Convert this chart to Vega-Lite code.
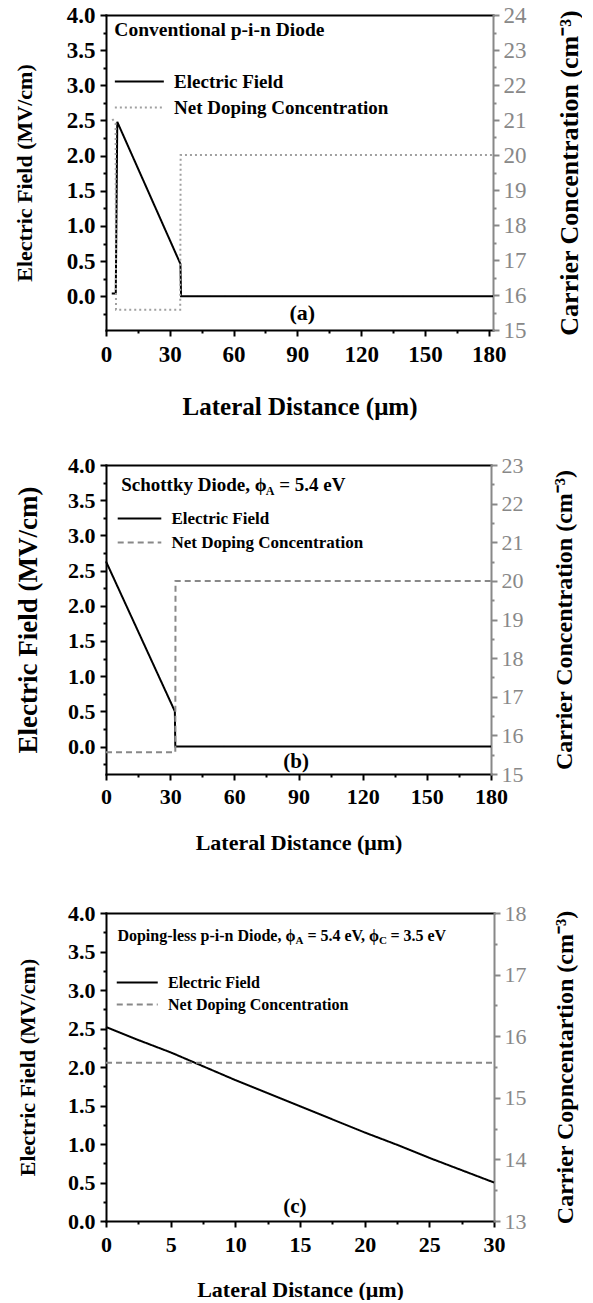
{
  "$schema": "https://vega.github.io/schema/vega-lite/v6.json",
  "padding": {"left": 13, "top": 4, "right": 0, "bottom": 0},
  "datasets": {
    "efA": [
      {"x": 2.7, "v": 0.04, "series": "Electric Field"},
      {"x": 4.6, "v": 0.04, "series": "Electric Field"},
      {"x": 5.3, "v": 2.48, "series": "Electric Field"},
      {"x": 35.0, "v": 0.46, "series": "Electric Field"},
      {"x": 35.3, "v": 0.0, "series": "Electric Field"},
      {"x": 182, "v": 0.0, "series": "Electric Field"}
    ],
    "ndA": [
      {"x": 3.0, "v": 21.03, "series": "Net Doping Concentration"},
      {"x": 4.5, "v": 20.9, "series": "Net Doping Concentration"},
      {"x": 4.7, "v": 15.58, "series": "Net Doping Concentration"},
      {"x": 34.9, "v": 15.58, "series": "Net Doping Concentration"},
      {"x": 35.1, "v": 20.0, "series": "Net Doping Concentration"},
      {"x": 182, "v": 20.0, "series": "Net Doping Concentration"}
    ],
    "efB": [
      {"x": 0, "v": 2.63, "series": "Electric Field"},
      {"x": 32.2, "v": 0.5, "series": "Electric Field"},
      {"x": 32.4, "v": 0.0, "series": "Electric Field"},
      {"x": 180, "v": 0.0, "series": "Electric Field"}
    ],
    "ndB": [
      {"x": 0, "v": 15.56, "series": "Net Doping Concentration"},
      {"x": 32.4, "v": 15.56, "series": "Net Doping Concentration"},
      {"x": 32.5, "v": 20.0, "series": "Net Doping Concentration"},
      {"x": 180, "v": 20.0, "series": "Net Doping Concentration"}
    ],
    "efC": [
      {"x": 0, "v": 2.52, "series": "Electric Field"},
      {"x": 2.5, "v": 2.35, "series": "Electric Field"},
      {"x": 5, "v": 2.19, "series": "Electric Field"},
      {"x": 7.5, "v": 2.01, "series": "Electric Field"},
      {"x": 10, "v": 1.83, "series": "Electric Field"},
      {"x": 12.5, "v": 1.66, "series": "Electric Field"},
      {"x": 15, "v": 1.49, "series": "Electric Field"},
      {"x": 17.5, "v": 1.32, "series": "Electric Field"},
      {"x": 20, "v": 1.15, "series": "Electric Field"},
      {"x": 22.5, "v": 0.99, "series": "Electric Field"},
      {"x": 25, "v": 0.82, "series": "Electric Field"},
      {"x": 27.5, "v": 0.66, "series": "Electric Field"},
      {"x": 30, "v": 0.5, "series": "Electric Field"}
    ],
    "ndC": [
      {"x": 0, "v": 15.57, "series": "Net Doping Concentration"},
      {"x": 30, "v": 15.57, "series": "Net Doping Concentration"}
    ]
  },
  "config": {
    "font": "Liberation Serif",
    "view": {"stroke": null},
    "axis": {
      "grid": false,
      "labelFont": "Liberation Serif",
      "titleFont": "Liberation Serif",
      "labelFontWeight": "bold",
      "titleFontWeight": "bold",
      "labelColor": "#000000",
      "titleColor": "#000000",
      "domainColor": "#000000",
      "tickColor": "#000000",
      "domainWidth": 2,
      "domainCap": "square",
      "tickWidth": 2,
      "tickSize": 6,
      "labelFlush": false,
      "labelOverlap": false
    },
    "legend": {"labelLimit": 500},
    "text": {"font": "Liberation Serif", "fontWeight": "bold", "color": "#000000"}
  },
  "resolve": {"scale": {"x": "independent", "y": "independent", "color": "independent", "strokeDash": "independent"}},
  "spacing": 49,
  "vconcat": [
    {
      "spacing": 35,
      "resolve": {"scale": {"x": "independent", "y": "independent", "color": "independent", "strokeDash": "independent"}},
      "vconcat": [
        {
          "width": 387,
          "height": 315,
          "resolve": {"scale": {"y": "independent"}, "axis": {"x": "independent", "y": "independent"}},
          "layer": [
            {
              "data": {"name": "efA"},
              "mark": {"type": "line", "strokeWidth": 2},
              "encoding": {
                "x": {"field": "x", "type": "quantitative", "scale": {"domain": [0, 182], "nice": false, "zero": false},
                  "axis": {"orient": "bottom", "values": [0, 30, 60, 90, 120, 150, 180], "labelFontSize": 23, "labelPadding": 7, "title": "Lateral Distance (μm)", "titleFontSize": 25, "titlePadding": 28}},
                "y": {"field": "v", "type": "quantitative", "scale": {"domain": [-0.48, 4], "nice": false, "zero": false},
                  "axis": {"orient": "left", "values": [0, 0.5, 1, 1.5, 2, 2.5, 3, 3.5, 4], "format": ".1f", "labelFontSize": 23, "labelPadding": 5, "title": "Electric Field (MV/cm)", "titleFontSize": 22, "titlePadding": 30}},
                "color": {"field": "series", "type": "nominal", "scale": {"domain": ["Electric Field", "Net Doping Concentration"], "range": ["#000000", "#a0a0a0"]},
                  "legend": {"orient": "none", "legendX": 7.6, "legendY": 53, "title": null, "symbolType": "M-1,0H3", "symbolSize": 600, "symbolStrokeWidth": 2, "labelFont": "Liberation Serif", "labelFontSize": 19, "labelFontWeight": "bold", "labelColor": "#000000", "labelOffset": 33.5, "labelLimit": 500, "rowPadding": 2, "padding": 0}},
                "strokeDash": {"field": "series", "type": "nominal", "scale": {"domain": ["Electric Field", "Net Doping Concentration"], "range": [[1, 0], [2, 3]]},
                  "legend": {"orient": "none", "legendX": 7.6, "legendY": 53, "title": null, "symbolType": "M-1,0H3", "symbolSize": 600, "symbolStrokeWidth": 2, "labelFont": "Liberation Serif", "labelFontSize": 19, "labelFontWeight": "bold", "labelColor": "#000000", "labelOffset": 33.5, "labelLimit": 500, "rowPadding": 2, "padding": 0}}
              }
            },
            {
              "data": {"name": "efA"},
              "mark": {"type": "line", "opacity": 0},
              "encoding": {
                "x": {"field": "x", "type": "quantitative", "axis": {"orient": "bottom", "values": [15, 45, 75, 105, 135, 165], "labels": false, "domain": false, "tickSize": 3, "title": null}},
                "y": {"field": "v", "type": "quantitative", "scale": {"domain": [-0.48, 4], "nice": false, "zero": false},
                  "axis": {"orient": "left", "values": [-0.25, 0.25, 0.75, 1.25, 1.75, 2.25, 2.75, 3.25, 3.75], "labels": false, "domain": false, "tickSize": 3, "title": null}}
              }
            },
            {
              "data": {"name": "ndA"},
              "mark": {"type": "line", "strokeWidth": 2},
              "encoding": {
                "x": {"field": "x", "type": "quantitative", "axis": {"orient": "top", "ticks": false, "labels": false, "title": null}},
                "y": {"field": "v", "type": "quantitative", "scale": {"domain": [15, 24], "nice": false, "zero": false},
                  "axis": {"orient": "right", "values": [15, 16, 17, 18, 19, 20, 21, 22, 23, 24], "format": "d", "labelFontSize": 23, "labelFontWeight": "normal", "labelColor": "#888888", "tickColor": "#888888", "domainColor": "#888888", "labelPadding": 4, "title": "Carrier Concentration (cm⁻³)", "titleFontSize": 26, "titleAngle": 270, "titleBaseline": "top", "titlePadding": 30}},
                "color": {"field": "series", "type": "nominal"},
                "strokeDash": {"field": "series", "type": "nominal"}
              }
            },
            {
              "data": {"name": "ndA"},
              "mark": {"type": "line", "opacity": 0},
              "encoding": {
                "x": {"field": "x", "type": "quantitative", "axis": null},
                "y": {"field": "v", "type": "quantitative", "scale": {"domain": [15, 24], "nice": false, "zero": false},
                  "axis": {"orient": "right", "values": [15.5, 16.5, 17.5, 18.5, 19.5, 20.5, 21.5, 22.5, 23.5], "labels": false, "domain": false, "tickSize": 3, "tickColor": "#888888", "title": null}}
              }
            },
            {
              "data": {"values": [{"t": "Conventional p-i-n Diode"}]},
              "mark": {"type": "text", "align": "left", "baseline": "middle", "fontSize": 19.5},
              "encoding": {
                "text": {"field": "t"},
                "x": {"datum": 3.9, "type": "quantitative", "axis": null},
                "y": {"datum": 3.79, "type": "quantitative", "scale": {"domain": [-0.48, 4], "nice": false, "zero": false}, "axis": null}
              }
            },
            {
              "data": {"values": [{"t": "(a)"}]},
              "mark": {"type": "text", "align": "center", "baseline": "middle", "fontSize": 22},
              "encoding": {
                "text": {"field": "t"},
                "x": {"datum": 92.3, "type": "quantitative", "axis": null},
                "y": {"datum": -0.24, "type": "quantitative", "scale": {"domain": [-0.48, 4], "nice": false, "zero": false}, "axis": null}
              }
            }
          ]
        },
        {
          "width": 385,
          "height": 309,
          "resolve": {"scale": {"y": "independent"}, "axis": {"x": "independent", "y": "independent"}},
          "layer": [
            {
              "data": {"name": "efB"},
              "mark": {"type": "line", "strokeWidth": 2},
              "encoding": {
                "x": {"field": "x", "type": "quantitative", "scale": {"domain": [0, 180], "nice": false, "zero": false},
                  "axis": {"orient": "bottom", "values": [0, 30, 60, 90, 120, 150, 180], "labelFontSize": 22, "labelPadding": 6, "title": "Lateral Distance (μm)", "titleFontSize": 22, "titlePadding": 25}},
                "y": {"field": "v", "type": "quantitative", "scale": {"domain": [-0.39, 4], "nice": false, "zero": false},
                  "axis": {"orient": "left", "values": [0, 0.5, 1, 1.5, 2, 2.5, 3, 3.5, 4], "format": ".1f", "labelFontSize": 22, "labelPadding": 5, "title": "Electric Field (MV/cm)", "titleFontSize": 27, "titlePadding": 25}},
                "color": {"field": "series", "type": "nominal", "scale": {"domain": ["Electric Field", "Net Doping Concentration"], "range": ["#000000", "#888888"]},
                  "legend": {"orient": "none", "legendX": 10.6, "legendY": 41.5, "title": null, "symbolType": "M-1,0H3", "symbolSize": 475, "symbolStrokeWidth": 2, "labelFont": "Liberation Serif", "labelFontSize": 17, "labelFontWeight": "bold", "labelColor": "#000000", "labelOffset": 30.8, "labelLimit": 500, "rowPadding": 4, "padding": 0}},
                "strokeDash": {"field": "series", "type": "nominal", "scale": {"domain": ["Electric Field", "Net Doping Concentration"], "range": [[1, 0], [6, 4]]},
                  "legend": {"orient": "none", "legendX": 10.6, "legendY": 41.5, "title": null, "symbolType": "M-1,0H3", "symbolSize": 475, "symbolStrokeWidth": 2, "labelFont": "Liberation Serif", "labelFontSize": 17, "labelFontWeight": "bold", "labelColor": "#000000", "labelOffset": 30.8, "labelLimit": 500, "rowPadding": 4, "padding": 0}}
              }
            },
            {
              "data": {"name": "efB"},
              "mark": {"type": "line", "opacity": 0},
              "encoding": {
                "x": {"field": "x", "type": "quantitative", "axis": {"orient": "bottom", "values": [15, 45, 75, 105, 135, 165], "labels": false, "domain": false, "tickSize": 3, "title": null}},
                "y": {"field": "v", "type": "quantitative", "scale": {"domain": [-0.39, 4], "nice": false, "zero": false},
                  "axis": {"orient": "left", "values": [-0.25, 0.25, 0.75, 1.25, 1.75, 2.25, 2.75, 3.25, 3.75], "labels": false, "domain": false, "tickSize": 3, "title": null}}
              }
            },
            {
              "data": {"name": "ndB"},
              "mark": {"type": "line", "strokeWidth": 2},
              "encoding": {
                "x": {"field": "x", "type": "quantitative", "axis": {"orient": "top", "ticks": false, "labels": false, "title": null}},
                "y": {"field": "v", "type": "quantitative", "scale": {"domain": [15, 23], "nice": false, "zero": false},
                  "axis": {"orient": "right", "values": [15, 16, 17, 18, 19, 20, 21, 22, 23], "format": "d", "labelFontSize": 22, "labelFontWeight": "normal", "labelColor": "#888888", "tickColor": "#888888", "domainColor": "#888888", "labelPadding": 4, "title": "Carrier Concentration (cm⁻³)", "titleFontSize": 24, "titleAngle": 270, "titleBaseline": "top", "titlePadding": 29}},
                "color": {"field": "series", "type": "nominal"},
                "strokeDash": {"field": "series", "type": "nominal"}
              }
            },
            {
              "data": {"name": "ndB"},
              "mark": {"type": "line", "opacity": 0},
              "encoding": {
                "x": {"field": "x", "type": "quantitative", "axis": null},
                "y": {"field": "v", "type": "quantitative", "scale": {"domain": [15, 23], "nice": false, "zero": false},
                  "axis": {"orient": "right", "values": [15.5, 16.5, 17.5, 18.5, 19.5, 20.5, 21.5, 22.5], "labels": false, "domain": false, "tickSize": 3, "tickColor": "#888888", "title": null}}
              }
            },
            {
              "data": {"values": [{"t": "Schottky Diode, ϕ"}]},
              "mark": {"type": "text", "align": "left", "baseline": "middle", "fontSize": 19},
              "encoding": {
                "text": {"field": "t"},
                "x": {"datum": 7.1, "type": "quantitative", "axis": null},
                "y": {"datum": 3.72, "type": "quantitative", "scale": {"domain": [-0.39, 4], "nice": false, "zero": false}, "axis": null}
              }
            },
            {
              "data": {"values": [{"t": "A"}]},
              "mark": {"type": "text", "align": "left", "baseline": "middle", "fontSize": 12, "dx": 144.5, "dy": 6},
              "encoding": {
                "text": {"field": "t"},
                "x": {"datum": 7.1, "type": "quantitative", "axis": null},
                "y": {"datum": 3.72, "type": "quantitative", "scale": {"domain": [-0.39, 4], "nice": false, "zero": false}, "axis": null}
              }
            },
            {
              "data": {"values": [{"t": "= 5.4 eV"}]},
              "mark": {"type": "text", "align": "left", "baseline": "middle", "fontSize": 19, "dx": 158},
              "encoding": {
                "text": {"field": "t"},
                "x": {"datum": 7.1, "type": "quantitative", "axis": null},
                "y": {"datum": 3.72, "type": "quantitative", "scale": {"domain": [-0.39, 4], "nice": false, "zero": false}, "axis": null}
              }
            },
            {
              "data": {"values": [{"t": "(b)"}]},
              "mark": {"type": "text", "align": "center", "baseline": "middle", "fontSize": 21},
              "encoding": {
                "text": {"field": "t"},
                "x": {"datum": 88.9, "type": "quantitative", "axis": null},
                "y": {"datum": -0.22, "type": "quantitative", "scale": {"domain": [-0.39, 4], "nice": false, "zero": false}, "axis": null}
              }
            }
          ]
        }
      ]
    },
    {
      "width": 388,
      "height": 308,
      "resolve": {"scale": {"y": "independent"}, "axis": {"x": "independent", "y": "independent"}},
      "layer": [
        {
          "data": {"name": "efC"},
          "mark": {"type": "line", "strokeWidth": 2},
          "encoding": {
            "x": {"field": "x", "type": "quantitative", "scale": {"domain": [0, 30], "nice": false, "zero": false},
              "axis": {"orient": "bottom", "values": [0, 5, 10, 15, 20, 25, 30], "labelFontSize": 22, "labelPadding": 7, "title": "Lateral Distance (μm)", "titleFontSize": 22, "titlePadding": 24}},
            "y": {"field": "v", "type": "quantitative", "scale": {"domain": [0, 4], "nice": false, "zero": false},
              "axis": {"orient": "left", "values": [0, 0.5, 1, 1.5, 2, 2.5, 3, 3.5, 4], "format": ".1f", "labelFontSize": 22, "labelPadding": 5, "title": "Electric Field (MV/cm)", "titleFontSize": 22, "titlePadding": 28}},
            "color": {"field": "series", "type": "nominal", "scale": {"domain": ["Electric Field", "Net Doping Concentration"], "range": ["#000000", "#888888"]},
              "legend": {"orient": "none", "legendX": 9.5, "legendY": 58, "title": null, "symbolType": "M-1,0H3", "symbolSize": 420, "symbolStrokeWidth": 2, "labelFont": "Liberation Serif", "labelFontSize": 16, "labelFontWeight": "bold", "labelColor": "#000000", "labelOffset": 29.5, "labelLimit": 500, "rowPadding": 2, "padding": 0}},
            "strokeDash": {"field": "series", "type": "nominal", "scale": {"domain": ["Electric Field", "Net Doping Concentration"], "range": [[1, 0], [6, 4]]},
              "legend": {"orient": "none", "legendX": 9.5, "legendY": 58, "title": null, "symbolType": "M-1,0H3", "symbolSize": 420, "symbolStrokeWidth": 2, "labelFont": "Liberation Serif", "labelFontSize": 16, "labelFontWeight": "bold", "labelColor": "#000000", "labelOffset": 29.5, "labelLimit": 500, "rowPadding": 2, "padding": 0}}
          }
        },
        {
          "data": {"name": "efC"},
          "mark": {"type": "line", "opacity": 0},
          "encoding": {
            "x": {"field": "x", "type": "quantitative", "axis": {"orient": "bottom", "values": [2.5, 7.5, 12.5, 17.5, 22.5, 27.5], "labels": false, "domain": false, "tickSize": 3, "title": null}},
            "y": {"field": "v", "type": "quantitative", "scale": {"domain": [0, 4], "nice": false, "zero": false},
              "axis": {"orient": "left", "values": [0.25, 0.75, 1.25, 1.75, 2.25, 2.75, 3.25, 3.75], "labels": false, "domain": false, "tickSize": 3, "title": null}}
          }
        },
        {
          "data": {"name": "ndC"},
          "mark": {"type": "line", "strokeWidth": 2},
          "encoding": {
            "x": {"field": "x", "type": "quantitative", "axis": {"orient": "top", "ticks": false, "labels": false, "title": null}},
            "y": {"field": "v", "type": "quantitative", "scale": {"domain": [13, 18], "nice": false, "zero": false},
              "axis": {"orient": "right", "values": [13, 14, 15, 16, 17, 18], "format": "d", "labelFontSize": 22, "labelFontWeight": "normal", "labelColor": "#888888", "tickColor": "#888888", "domainColor": "#888888", "labelPadding": 4, "title": "Carrier Copncentartion (cm⁻³)", "titleFontSize": 24, "titleAngle": 270, "titleBaseline": "top", "titlePadding": 27}},
            "color": {"field": "series", "type": "nominal"},
            "strokeDash": {"field": "series", "type": "nominal"}
          }
        },
        {
          "data": {"name": "ndC"},
          "mark": {"type": "line", "opacity": 0},
          "encoding": {
            "x": {"field": "x", "type": "quantitative", "axis": null},
            "y": {"field": "v", "type": "quantitative", "scale": {"domain": [13, 18], "nice": false, "zero": false},
              "axis": {"orient": "right", "values": [13.5, 14.5, 15.5, 16.5, 17.5], "labels": false, "domain": false, "tickSize": 3, "tickColor": "#888888", "title": null}}
          }
        },
        {
          "data": {"values": [{"t": "Doping-less p-i-n Diode, ϕ"}]},
          "mark": {"type": "text", "align": "left", "baseline": "middle", "fontSize": 16},
          "encoding": {
            "text": {"field": "t"},
            "x": {"datum": 0.88, "type": "quantitative", "axis": null},
            "y": {"datum": 3.7, "type": "quantitative", "scale": {"domain": [0, 4], "nice": false, "zero": false}, "axis": null}
          }
        },
        {
          "data": {"values": [{"t": "A"}]},
          "mark": {"type": "text", "align": "left", "baseline": "middle", "fontSize": 11, "dx": 178, "dy": 5},
          "encoding": {
            "text": {"field": "t"},
            "x": {"datum": 0.88, "type": "quantitative", "axis": null},
            "y": {"datum": 3.7, "type": "quantitative", "scale": {"domain": [0, 4], "nice": false, "zero": false}, "axis": null}
          }
        },
        {
          "data": {"values": [{"t": "= 5.4 eV, ϕ"}]},
          "mark": {"type": "text", "align": "left", "baseline": "middle", "fontSize": 16, "dx": 190},
          "encoding": {
            "text": {"field": "t"},
            "x": {"datum": 0.88, "type": "quantitative", "axis": null},
            "y": {"datum": 3.7, "type": "quantitative", "scale": {"domain": [0, 4], "nice": false, "zero": false}, "axis": null}
          }
        },
        {
          "data": {"values": [{"t": "C"}]},
          "mark": {"type": "text", "align": "left", "baseline": "middle", "fontSize": 11, "dx": 261.5, "dy": 5},
          "encoding": {
            "text": {"field": "t"},
            "x": {"datum": 0.88, "type": "quantitative", "axis": null},
            "y": {"datum": 3.7, "type": "quantitative", "scale": {"domain": [0, 4], "nice": false, "zero": false}, "axis": null}
          }
        },
        {
          "data": {"values": [{"t": "= 3.5 eV"}]},
          "mark": {"type": "text", "align": "left", "baseline": "middle", "fontSize": 16, "dx": 273},
          "encoding": {
            "text": {"field": "t"},
            "x": {"datum": 0.88, "type": "quantitative", "axis": null},
            "y": {"datum": 3.7, "type": "quantitative", "scale": {"domain": [0, 4], "nice": false, "zero": false}, "axis": null}
          }
        },
        {
          "data": {"values": [{"t": "(c)"}]},
          "mark": {"type": "text", "align": "center", "baseline": "middle", "fontSize": 21},
          "encoding": {
            "text": {"field": "t"},
            "x": {"datum": 14.6, "type": "quantitative", "axis": null},
            "y": {"datum": 0.18, "type": "quantitative", "scale": {"domain": [0, 4], "nice": false, "zero": false}, "axis": null}
          }
        }
      ]
    }
  ]
}
